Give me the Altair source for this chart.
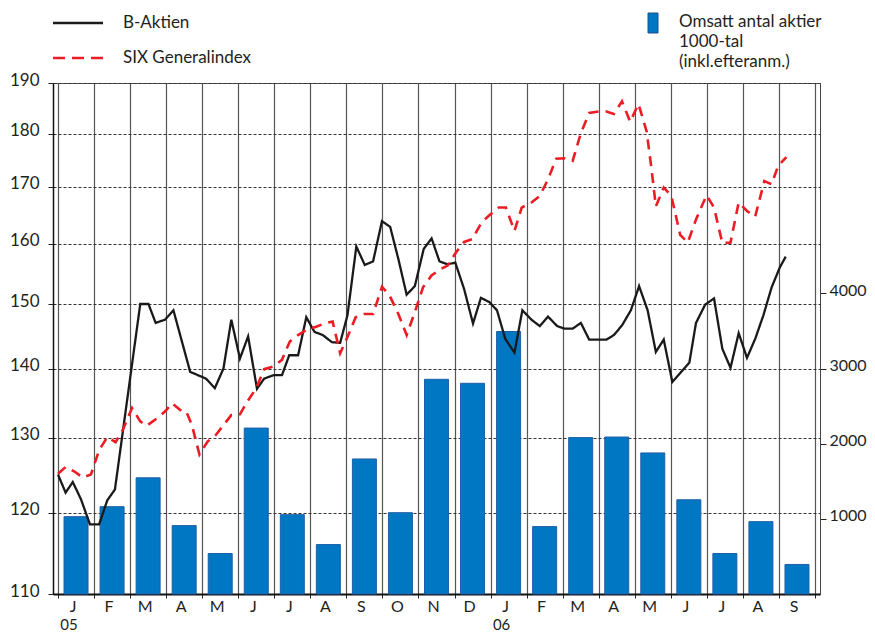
import altair as alt
import pandas as pd

# ---------------- data ----------------
months = ["J", "F", "M", "A", "M", "J", "J", "A", "S", "O", "N", "D",
          "J", "F", "M", "A", "M", "J", "J", "A", "S"]
year_labels = ["05", "06"]
year_pos = [0.5, 12.5]

# Omsatt antal aktier, 1000-tal (monthly)
volume = [1029, 1162, 1546, 910, 539, 2208, 1056, 658, 1797, 1082, 2857,
          2804, 3493, 897, 2082, 2089, 1877, 1254, 539, 963, 393]

# B-Aktien (month index: 0 = start of Jan 2005)
b_month = [0.0, 0.211, 0.41, 0.64, 0.887, 1.141, 1.368, 1.579, 2.282, 2.51,
           2.709, 2.967, 3.202, 3.667, 4.105, 4.351, 4.59, 4.808, 5.047, 5.274,
           5.52, 5.72, 5.977, 6.212, 6.415, 6.661, 6.888, 7.115, 7.345, 7.6,
           7.827, 8.03, 8.276, 8.511, 8.741, 8.987, 9.215, 9.442, 9.672, 9.899,
           10.145, 10.364, 10.583, 10.81, 11.021, 11.267, 11.513, 11.732, 11.97, 12.178,
           12.408, 12.663, 12.882, 13.136, 13.366, 13.593, 13.848, 14.05, 14.277, 14.505,
           14.735, 15.216, 15.419, 15.646, 15.892, 16.12, 16.357, 16.585, 16.804, 17.042,
           17.288, 17.515, 17.699, 17.953, 18.199, 18.429, 18.656, 18.883, 19.113, 19.34,
           19.568, 19.797, 20.025, 20.189]
b_value = [125.0, 122.6, 124.0, 121.7, 118.5, 118.5, 121.6, 123.0, 150.0, 150.0,
           147.0, 147.5, 149.0, 139.5, 138.5, 137.1, 140.0, 147.5, 141.5, 144.9,
           137.0, 138.5, 139.0, 139.0, 142.0, 142.0, 147.9, 145.6, 145.1, 144.0,
           143.9, 148.2, 159.5, 156.4, 157.0, 163.9, 162.9, 157.4, 151.5, 152.9,
           159.1, 160.9, 157.0, 156.5, 156.8, 152.4, 146.9, 151.0, 150.3, 149.0,
           144.5, 142.4, 149.0, 147.5, 146.5, 148.0, 146.5, 146.1, 146.1, 147.0,
           144.4, 144.4, 145.1, 146.6, 149.0, 152.9, 149.0, 142.5, 144.4, 138.0,
           139.5, 140.9, 147.0, 149.9, 150.9, 143.0, 140.1, 145.4, 141.6, 144.5,
           148.2, 152.7, 156.0, 157.8]

# SIX Generalindex
six_month = [0.0, 0.211, 0.457, 0.684, 0.914, 1.141, 1.368, 1.598, 1.798, 2.053,
             2.282, 2.463, 2.737, 2.967, 3.166, 3.421, 3.558, 3.714, 3.924, 4.152,
             4.379, 4.609, 4.808, 5.047, 5.246, 5.501, 5.72, 5.977, 6.212, 6.431,
             6.661, 6.888, 7.162, 7.436, 7.619, 7.827, 8.03, 8.257, 8.484, 8.741,
             8.987, 9.195, 9.442, 9.672, 9.899, 10.126, 10.356, 10.583, 10.81, 11.04,
             11.267, 11.494, 11.752, 11.998, 12.225, 12.425, 12.663, 12.863, 13.136, 13.366,
             13.593, 13.82, 14.05, 14.277, 14.505, 14.735, 15.008, 15.216, 15.419, 15.646,
             15.873, 16.103, 16.33, 16.467, 16.585, 16.804, 17.014, 17.26, 17.471, 17.699,
             17.991, 18.199, 18.429, 18.656, 18.883, 19.113, 19.34, 19.595, 19.797, 19.978,
             20.207]
six_value = [125.1, 126.0, 125.4, 124.6, 125.0, 128.3, 130.1, 129.4, 131.1, 134.2,
             132.3, 131.7, 132.7, 133.7, 134.9, 133.8, 133.7, 131.8, 127.7, 129.5,
             130.4, 131.9, 133.2, 133.3, 135.1, 137.1, 139.9, 140.3, 141.3, 144.1,
             145.1, 145.9, 146.4, 147.0, 147.2, 142.3, 144.8, 147.9, 148.4, 148.4,
             152.8, 151.4, 148.4, 145.1, 148.7, 152.7, 154.6, 155.6, 156.3, 158.5,
             160.3, 160.8, 163.7, 165.1, 166.3, 166.3, 162.2, 166.3, 167.2, 168.4,
             171.4, 175.2, 175.3, 174.8, 180.1, 184.0, 184.3, 184.3, 183.8, 186.3,
             182.3, 185.8, 180.4, 173.2, 166.5, 169.9, 168.4, 161.5, 160.2, 164.2,
             168.5, 166.3, 160.1, 160.2, 167.2, 165.7, 164.7, 171.1, 170.5, 173.9,
             175.5]

left_ticks = [110, 120, 130, 140, 150, 160, 170, 180, 190]
right_ticks = [1000, 2000, 3000, 4000]
series = ["B-Aktien", "SIX Generalindex"]
bar_legend_lines = ["Omsatt antal aktier", "1000-tal", "(inkl.efteranm.)"]

# ---------------- build ----------------
FONT = "Lato"
TXT = "#231f20"
W, H = 767, 511

bar_df = pd.DataFrame({"pos": [i + 0.5 for i in range(len(volume))], "vol": volume})
line_df = pd.DataFrame({
    "series": [series[0]] * len(b_month) + [series[1]] * len(six_month),
    "m": b_month + six_month,
    "v": b_value + six_value,
})
month_df = pd.DataFrame({"pos": [i + 0.5 for i in range(len(months))], "lab": months})
year_df = pd.DataFrame({"pos": year_pos, "lab": year_labels})
one = pd.DataFrame({"a": [0]})

xscale = alt.Scale(domain=[0, len(months)], nice=False, zero=False)
xaxis = alt.Axis(values=list(range(len(months) + 1)), labels=False, title=None,
                 grid=True, gridColor="#555555", gridWidth=1.2, gridDash=[1, 0],
                 tickSize=4, tickColor="#222222", domainColor="#111111", domainWidth=2)

bars = alt.Chart(bar_df).mark_bar(width=24, color="#0077c3", stroke="#1f5fa6",
                                  strokeWidth=1).encode(
    x=alt.X("pos:Q", scale=xscale, axis=xaxis),
    y=alt.Y("vol:Q", scale=alt.Scale(domain=[0, 6800], nice=False, zero=True),
            axis=alt.Axis(orient="right", values=right_ticks, grid=False, title=None,
                          format="d", tickSize=6, tickColor="#222222", labelPadding=3,
                          labelFontSize=16, labelOffset=-3,
                          domainColor="#444444", domainWidth=1)),
)

lines = alt.Chart(line_df).mark_line().encode(
    x=alt.X("m:Q", scale=xscale, axis=xaxis),
    y=alt.Y("v:Q", scale=alt.Scale(type="log", domain=[110, 190], nice=False),
            axis=alt.Axis(orient="left", values=left_ticks, grid=True, title=None,
                          format="d", gridDash=[3, 2], gridColor="#333333", gridWidth=1,
                          tickSize=5, tickColor="#222222", labelPadding=9,
                          labelOffset=-3, domainColor="#111111", domainWidth=1.5)),
    color=alt.Color("series:N", scale=alt.Scale(domain=series, range=["#1a1a1a", "#ec1c24"]),
                    legend=None),
    strokeDash=alt.StrokeDash("series:N", scale=alt.Scale(domain=series, range=[[1, 0], [10, 7]]),
                              legend=None),
    strokeWidth=alt.StrokeWidth("series:N", scale=alt.Scale(domain=series, range=[2.3, 2.6]),
                                legend=None),
)

month_text = alt.Chart(month_df).mark_text(font=FONT, fontSize=16, color=TXT,
                                           baseline="middle", align="center", dx=-3).encode(
    x=alt.X("pos:Q", scale=xscale, axis=xaxis),
    y=alt.value(H + 13),
    text="lab:N",
)
year_text = alt.Chart(year_df).mark_text(font=FONT, fontSize=15, color=TXT,
                                         baseline="middle", align="center", dx=-7).encode(
    x=alt.X("pos:Q", scale=xscale, axis=xaxis),
    y=alt.value(H + 31),
    text="lab:N",
)


def leg_rule(x1, x2, y, color, dash, width):
    return alt.Chart(one).mark_rule(color=color, strokeDash=dash, strokeWidth=width).encode(
        x=alt.value(x1), x2=alt.value(x2), y=alt.value(y))


def leg_text(x, y, s):
    return alt.Chart(one).mark_text(font=FONT, fontSize=17, color=TXT, align="left",
                                    baseline="middle", text=s).encode(
        x=alt.value(x), y=alt.value(y))


legend_layers = [
    leg_rule(0, 50, -60, "#1a1a1a", [1, 0], 2.5),
    leg_text(70, -60, series[0]),
    leg_rule(0, 50, -25, "#ec1c24", [12, 7], 2.6),
    leg_text(70, -25, series[1]),
    alt.Chart(one).mark_rect(color="#0077c3", stroke="#1f4f8a", strokeWidth=1).encode(
        x=alt.value(595), x2=alt.value(605), y=alt.value(-70), y2=alt.value(-50)),
    leg_text(626, -61, bar_legend_lines[0]),
    leg_text(626, -41, bar_legend_lines[1]),
    leg_text(626, -21, bar_legend_lines[2]),
]

chart = alt.layer(bars, lines, month_text, year_text, *legend_layers).resolve_scale(
    y="independent"
).properties(
    width=W, height=H,
    autosize=alt.AutoSizeParams(type="none"),
    padding={"left": 45, "top": 75, "right": 47, "bottom": 41},
).configure_axis(
    labelFont=FONT, labelFontSize=17, labelColor=TXT,
).configure_view(stroke="#555555", strokeWidth=1)

chart.save("out.html", embed_options={"renderer": "svg", "actions": False})
